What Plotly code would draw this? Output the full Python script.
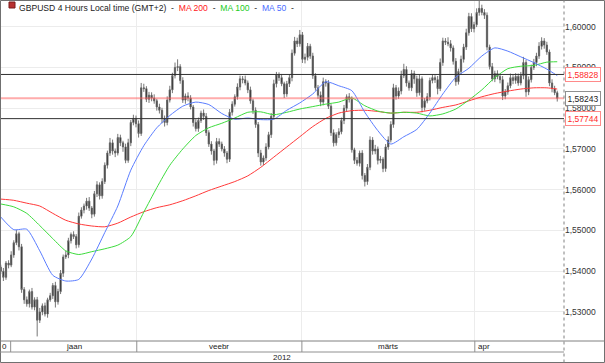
import plotly.graph_objects as go

# ---------------- data ----------------
first_open = 1.5410
close = [
    1.5400, 1.5385, 1.5420, 1.5415, 1.5440, 1.5470, 1.5492, 1.5460, 1.5355, 1.5330,
    1.5320, 1.5350, 1.5312, 1.5330, 1.5280, 1.5300, 1.5315, 1.5295, 1.5330, 1.5340,
    1.5365, 1.5325, 1.5350, 1.5395, 1.5435, 1.5440, 1.5475, 1.5490, 1.5485, 1.5465,
    1.5535, 1.5550, 1.5560, 1.5572, 1.5555, 1.5540, 1.5590, 1.5612, 1.5585, 1.5620,
    1.5660, 1.5690, 1.5715, 1.5695, 1.5690, 1.5728, 1.5715, 1.5705, 1.5672, 1.5715,
    1.5765, 1.5775, 1.5762, 1.5738, 1.5850, 1.5848, 1.5822, 1.5832, 1.5825, 1.5818,
    1.5803, 1.5795, 1.5775, 1.5765, 1.5820, 1.5845, 1.5880, 1.5900, 1.5902, 1.5868,
    1.5820, 1.5830, 1.5825, 1.5803, 1.5765, 1.5750, 1.5770, 1.5788, 1.5780, 1.5740,
    1.5712, 1.5695, 1.5672, 1.5718, 1.5712, 1.5700, 1.5690, 1.5675, 1.5790, 1.5810,
    1.5828, 1.5852, 1.5872, 1.5870, 1.5862, 1.5845, 1.5818, 1.5795, 1.5760, 1.5690,
    1.5668, 1.5678, 1.5705, 1.5735, 1.5780, 1.5860, 1.5882, 1.5875, 1.5860, 1.5835,
    1.5860, 1.5875, 1.5935, 1.5965, 1.5958, 1.5980, 1.5920, 1.5925, 1.5952, 1.5928,
    1.5880, 1.5850, 1.5832, 1.5815, 1.5865, 1.5862, 1.5805, 1.5740, 1.5715, 1.5735,
    1.5742, 1.5770, 1.5800, 1.5828, 1.5822, 1.5698, 1.5672, 1.5665, 1.5690, 1.5635,
    1.5620, 1.5655, 1.5722, 1.5695, 1.5700, 1.5672, 1.5675, 1.5652, 1.5705, 1.5722,
    1.5760, 1.5850, 1.5830, 1.5842, 1.5880, 1.5895, 1.5862, 1.5850, 1.5885, 1.5872,
    1.5838, 1.5872, 1.5802, 1.5818, 1.5828, 1.5868, 1.5875, 1.5870, 1.5848, 1.5912,
    1.5965, 1.5962, 1.5958, 1.5948, 1.5915, 1.5865, 1.5890, 1.5920, 1.5950, 1.5985,
    1.6025, 1.5995, 1.6005, 1.6035, 1.6045, 1.6035, 1.6028, 1.5950, 1.5902, 1.5872,
    1.5885, 1.5878, 1.5870, 1.5830, 1.5840, 1.5855, 1.5875, 1.5868, 1.5878, 1.5862,
    1.5880, 1.5912, 1.5840, 1.5870, 1.5900, 1.5912, 1.5928, 1.5952, 1.5965, 1.5955,
    1.5938, 1.5862, 1.5848, 1.5838, 1.58243,
]
# wick lengths above / below the candle body, in pips
up_wick = [
    6, 8, 5, 7, 9, 6, 10, 5, 7, 6,
    8, 5, 9, 6, 7, 10, 6, 8, 5, 7,
    6, 9, 7, 8, 6, 10, 7, 5, 8, 6,
    9, 7, 6, 8, 10, 5, 7, 9, 6, 8,
    7, 6, 12, 8, 6, 9, 7, 5, 8, 10,
    6, 9, 7, 8, 12, 10, 6, 8, 7, 9,
    5, 8, 6, 7, 9, 10, 7, 12, 18, 6,
    8, 6, 9, 7, 5, 8, 7, 6, 9, 8,
    6, 7, 5, 9, 8, 6, 7, 5, 8, 7,
    6, 9, 8, 7, 10, 6, 8, 5, 7, 6,
    8, 6, 9, 7, 8, 10, 7, 6, 9, 5,
    7, 8, 9, 10, 8, 12, 7, 9, 8, 6,
    8, 6, 7, 9, 10, 6, 7, 5, 8, 6,
    9, 7, 8, 6, 9, 7, 5, 8, 6, 7,
    6, 8, 9, 7, 10, 6, 8, 5, 7, 9,
    8, 10, 7, 9, 12, 14, 8, 6, 9, 7,
    8, 10, 6, 7, 9, 7, 8, 6, 9, 10,
    8, 7, 12, 9, 6, 8, 7, 9, 8, 10,
    9, 8, 7, 10, 20, 9, 8, 7, 6, 9,
    7, 8, 6, 9, 7, 8, 10, 6, 8, 7,
    9, 14, 6, 8, 7, 9, 8, 10, 9, 7,
    8, 6, 9, 7, 5,
]
dn_wick = [
    7, 9, 6, 8, 5, 7, 6, 9, 8, 10,
    7, 9, 6, 8, 40, 7, 8, 6, 9, 5,
    8, 14, 7, 6, 9, 5, 8, 7, 6, 9,
    7, 6, 8, 9, 7, 10, 6, 8, 9, 7,
    6, 8, 7, 9, 10, 6, 8, 12, 7, 6,
    8, 7, 9, 10, 6, 8, 7, 9, 8, 7,
    9, 8, 12, 10, 7, 6, 8, 7, 9, 8,
    7, 9, 8, 6, 10, 7, 8, 6, 9, 8,
    7, 9, 12, 8, 7, 6, 9, 10, 7, 8,
    6, 7, 8, 9, 6, 8, 7, 9, 8, 10,
    9, 8, 7, 6, 8, 7, 9, 8, 6, 10,
    7, 8, 9, 6, 8, 7, 9, 10, 8, 7,
    8, 7, 9, 10, 8, 9, 7, 8, 9, 7,
    8, 6, 9, 7, 8, 7, 9, 6, 8, 10,
    12, 8, 7, 9, 8, 10, 7, 9, 8, 7,
    6, 8, 9, 7, 8, 6, 9, 7, 8, 12,
    10, 7, 12, 8, 6, 9, 7, 8, 14, 6,
    8, 7, 6, 9, 8, 10, 7, 6, 8, 7,
    7, 8, 9, 6, 8, 7, 9, 8, 7, 6,
    8, 7, 9, 10, 8, 7, 6, 9, 8, 7,
    6, 9, 12, 8, 7, 6, 9, 7, 8, 9,
    7, 8, 9, 6, 8,
]

# moving averages, sampled at bar positions
ma_bar = [0, 5, 10, 15, 20, 25, 30, 35, 40, 45, 50, 55, 60, 65, 70, 75, 80, 85, 90, 95,
          100, 105, 110, 115, 120, 125, 130, 135, 140, 145, 150, 155, 160, 165, 170,
          175, 180, 185, 190, 195, 200, 205, 210, 214]
ma200 = [1.5577, 1.5574, 1.5567, 1.5560, 1.5542, 1.5525, 1.5516, 1.5511, 1.5509, 1.5518,
         1.5533, 1.5546, 1.5556, 1.5563, 1.5573, 1.5585, 1.5598, 1.5609, 1.5620, 1.5634,
         1.5655, 1.5680, 1.5705, 1.5730, 1.5755, 1.5775, 1.5788, 1.5794, 1.5795, 1.5792,
         1.5788, 1.5790, 1.5790, 1.5795, 1.5802, 1.5808, 1.5818, 1.5828, 1.5836, 1.5842,
         1.5847, 1.5850, 1.5850, 1.5847]
ma100 = [1.5565, 1.5558, 1.5542, 1.5512, 1.5480, 1.5450, 1.5441, 1.5448, 1.5455, 1.5464,
         1.5485, 1.5545, 1.5605, 1.5660, 1.5700, 1.5733, 1.5752, 1.5763, 1.5776, 1.5790,
         1.5791, 1.5784, 1.5790, 1.5798, 1.5804, 1.5810, 1.5815, 1.5825, 1.5806, 1.5793,
         1.5788, 1.5790, 1.5788, 1.5781, 1.5786, 1.5798, 1.5820, 1.5845, 1.5875, 1.5897,
         1.5903, 1.5905, 1.5913, 1.5914]
ma50 = [1.5533, 1.5502, 1.5503, 1.5450, 1.5390, 1.5376, 1.5380, 1.5430, 1.5495, 1.5560,
        1.5648, 1.5708, 1.5752, 1.5782, 1.5805, 1.5815, 1.5809, 1.5787, 1.5773, 1.5776,
        1.5772, 1.5773, 1.5795, 1.5813, 1.5835, 1.5865, 1.5855, 1.5843, 1.5790, 1.5745,
        1.5712, 1.5730, 1.5748, 1.5788, 1.5835, 1.5876, 1.5898, 1.5928, 1.5948, 1.5940,
        1.5926, 1.5912, 1.5896, 1.5880]

levels = [1.58828, 1.57744]
last_price = 1.58243
y_ticks = [1.53, 1.54, 1.55, 1.56, 1.57, 1.58, 1.59, 1.60]
month_labels = ["jaan", "veebr", "märts", "apr"]
month_start = [3.8, 52.3, 115.8, 182.3]   # bar position where each month cell starts
year_label = "2012"
title_text = "GBPUSD 4 Hours Local time (GMT+2)"

# ---------------- build OHLC ----------------
n = len(close)
bars = list(range(n))
opens = [first_open] + close[:-1]
highs = [max(o, c) + u / 10000 for o, c, u in zip(opens, close, up_wick)]
lows = [min(o, c) - d / 10000 for o, c, d in zip(opens, close, dn_wick)]

X0, X1 = -0.3, 216.6
Y0, Y1 = 1.52288, 1.60655
W, H = 605, 363
ML, MR, MT, MB = 0, 41, 0, 22
PW, PH = W - ML - MR, H - MT - MB


def px_x(p):
    return p / PW


def px_y(p):
    return (PH - p) / PH


FONT = "Liberation Sans, Arial"

fig = go.Figure()
fig.add_trace(go.Candlestick(
    x=bars, open=opens, high=highs, low=lows, close=close,
    increasing=dict(line=dict(color="#666666", width=0.9), fillcolor="#151515"),
    decreasing=dict(line=dict(color="#666666", width=0.9), fillcolor="#151515"),
    whiskerwidth=0, showlegend=False, hoverinfo="skip",
))
for vals, col in [(ma200, "#ff3a3a"), (ma100, "#3ddc3d"), (ma50, "#5a7dff")]:
    fig.add_trace(go.Scatter(x=ma_bar, y=vals, mode="lines",
                             line=dict(color=col, width=1, shape="spline", smoothing=0.6),
                             showlegend=False, hoverinfo="skip"))

shapes = []
for lv in levels:
    shapes.append(dict(type="line", xref="paper", yref="y", x0=0, x1=1, y0=lv, y1=lv,
                       line=dict(color="#303030", width=1), layer="above"))
shapes.append(dict(type="line", xref="paper", yref="y", x0=0, x1=1, y0=last_price, y1=last_price,
                   line=dict(color="rgba(255,90,90,0.5)", width=2), layer="above"))
yb1 = px_y(352)
yb2 = px_y(362.5)
xr = px_x(604.5)
shapes += [
    dict(type="rect", xref="paper", yref="paper", x0=px_x(0.5), x1=xr, y0=yb2, y1=px_y(0.5),
         line=dict(color="#707070", width=1)),
    dict(type="line", xref="paper", yref="paper", x0=0, x1=xr, y0=0, y1=0,
         line=dict(color="#808080", width=1)),
    dict(type="line", xref="paper", yref="paper", x0=0, x1=1, y0=yb1, y1=yb1,
         line=dict(color="#909090", width=1)),
    dict(type="line", xref="paper", yref="paper", x0=1, x1=1, y0=yb2, y1=1,
         line=dict(color="#808080", width=1, dash="dot")),
]
for ms in month_start:
    shapes.append(dict(type="line", xref="x", yref="paper", x0=ms, x1=ms, y0=yb1, y1=0,
                       line=dict(color="#909090", width=1)))
shapes.append(dict(type="rect", xref="paper", yref="paper", x0=px_x(9), x1=px_x(15),
                   y0=px_y(8), y1=px_y(2), fillcolor="#b83030", line=dict(color="#7a1a1a", width=1)))

annotations = []
sep = "\u00a0\u00a0-\u00a0\u00a0"
annotations.append(dict(
    xref="paper", yref="paper", x=px_x(16.5), y=px_y(8.5), xanchor="left", yanchor="middle",
    showarrow=False, font=dict(family=FONT, size=8.6, color="#222"),
    text=(title_text + sep + "<span style='color:#ff2020'>MA 200</span>" + sep +
          "<span style='color:#22cc22'>MA 100</span>" + sep +
          "<span style='color:#4a6cff'>MA 50</span>" + sep)))
ym = px_y(346.5)
ends = month_start[1:] + [X1]
for i, (lab, s, e) in enumerate(zip(month_labels, month_start, ends)):
    last = i == len(month_labels) - 1
    annotations.append(dict(xref="x", yref="paper", x=(s + 0.6) if last else (s + e) / 2, y=ym,
                            xanchor="left" if last else "center", yanchor="middle", text=lab,
                            showarrow=False, font=dict(family=FONT, size=8, color="#222")))
annotations.append(dict(xref="x", yref="paper", x=month_start[0] - 0.6, y=ym, xanchor="right",
                        yanchor="middle", text="0", showarrow=False,
                        font=dict(family=FONT, size=8, color="#222")))
annotations.append(dict(xref="paper", yref="paper", x=0.5, y=px_y(357.2), xanchor="center",
                        yanchor="middle", text=year_label, showarrow=False,
                        font=dict(family=FONT, size=8, color="#222")))
for val, col, bcol in [(levels[0], "#ff2a2a", "#ff8a8a"), (last_price, "#222", "#909090"),
                       (levels[1], "#ff2a2a", "#ff8a8a")]:
    annotations.append(dict(xref="paper", yref="y", x=px_x(565), y=val, xanchor="left",
                            yanchor="middle", text=f"{val:.5f}".replace(".", ","),
                            showarrow=False, bgcolor="white", bordercolor=bcol, borderwidth=1,
                            borderpad=1.5,
                            font=dict(family=FONT, size=8.5, color=col)))

fig.update_layout(
    width=W, height=H, margin=dict(l=ML, r=MR, t=MT, b=MB),
    paper_bgcolor="white", plot_bgcolor="white", separators=",.",
    shapes=shapes, annotations=annotations,
    xaxis=dict(range=[X0, X1], showticklabels=False, ticks="", showgrid=True,
               tickvals=month_start[1:], gridcolor="#ececec", zeroline=False,
               rangeslider=dict(visible=False), showline=False, fixedrange=True),
    yaxis=dict(range=[Y0, Y1], side="right", tickvals=y_ticks, tickformat=".5f",
               showgrid=True, gridcolor="#ececec", zeroline=False, ticks="", ticklen=0,
               tickfont=dict(family=FONT, size=8.5, color="#333"),
               showline=False, fixedrange=True),
    font=dict(family=FONT),
)
fig.write_html("out.html", config={"displayModeBar": False},
               post_script="document.body.style.margin='0px';")
